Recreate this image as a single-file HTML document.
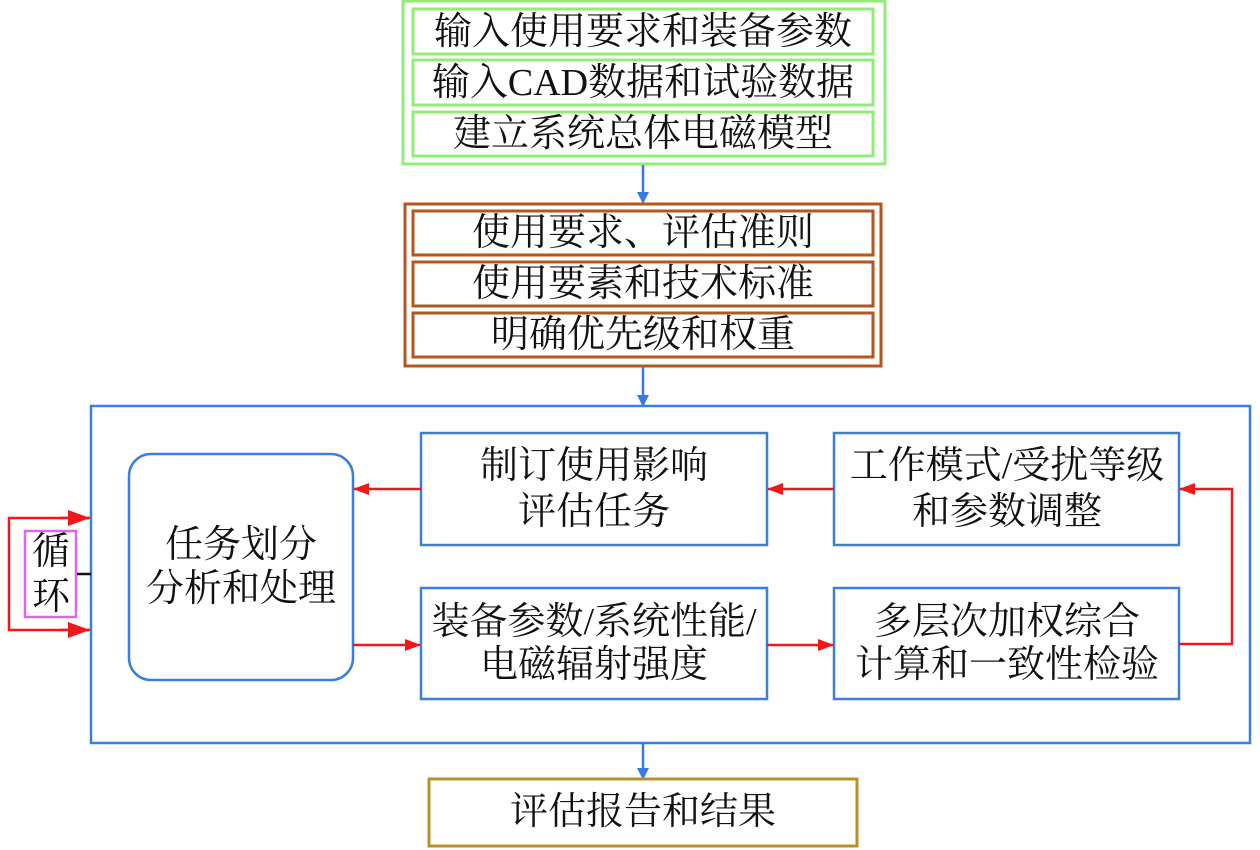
<!DOCTYPE html>
<html><head><meta charset="utf-8"><style>
html,body{margin:0;padding:0;background:#fff}
svg{display:block}
text{font-family:"Liberation Serif","Noto Serif CJK SC",serif;font-size:38px;fill:#111;text-anchor:middle;dominant-baseline:central}
</style></head><body>
<svg width="1260" height="850" viewBox="0 0 1260 850" xmlns="http://www.w3.org/2000/svg">
<defs>
<marker id="ab" markerWidth="12" markerHeight="12" refX="10" refY="6" orient="auto" markerUnits="userSpaceOnUse"><path d="M0,0 L12,6 L0,12 z" fill="#3b78e7"/></marker>
<marker id="ar" markerWidth="16" markerHeight="12" refX="15" refY="6" orient="auto" markerUnits="userSpaceOnUse"><path d="M0,0 L16,6 L0,12 z" fill="#f01818"/></marker>
<marker id="ar2" markerWidth="22" markerHeight="16" refX="21" refY="8" orient="auto" markerUnits="userSpaceOnUse"><path d="M0,0 L22,8 L0,16 z" fill="#f01818"/></marker>
</defs>
<rect x="403" y="1" width="482" height="163" fill="none" stroke="#90ee78" stroke-width="3"/>
<rect x="413" y="9" width="460" height="45" fill="none" stroke="#90ee78" stroke-width="3"/>
<rect x="413" y="60" width="460" height="45" fill="none" stroke="#90ee78" stroke-width="3"/>
<rect x="413" y="112" width="460" height="44" fill="none" stroke="#90ee78" stroke-width="3"/>
<text x="643" y="32">输入使用要求和装备参数</text>
<text x="643" y="83">输入CAD数据和试验数据</text>
<text x="643" y="134">建立系统总体电磁模型</text>
<line x1="643" y1="165" x2="643" y2="202" stroke="#3b78e7" stroke-width="2.5" marker-end="url(#ab)"/>
<rect x="405" y="204" width="476" height="162" fill="none" stroke="#b5561e" stroke-width="3"/>
<rect x="413" y="211" width="460" height="44" fill="none" stroke="#b5561e" stroke-width="3"/>
<rect x="413" y="262" width="460" height="44" fill="none" stroke="#b5561e" stroke-width="3"/>
<rect x="413" y="313" width="460" height="44" fill="none" stroke="#b5561e" stroke-width="3"/>
<text x="643" y="233">使用要求、评估准则</text>
<text x="643" y="284">使用要素和技术标准</text>
<text x="643" y="335">明确优先级和权重</text>
<line x1="643" y1="367" x2="643" y2="405" stroke="#3b78e7" stroke-width="2.5" marker-end="url(#ab)"/>
<rect x="91" y="406" width="1159" height="337" fill="none" stroke="#3b7fd8" stroke-width="2.5"/>
<rect x="129" y="454" width="224" height="226" rx="22" fill="none" stroke="#3b7fd8" stroke-width="2.5"/>
<text x="241" y="545">任务划分</text>
<text x="241" y="589">分析和处理</text>
<rect x="421" y="433" width="346" height="112" fill="none" stroke="#3b7fd8" stroke-width="2.5"/>
<text x="594" y="466">制订使用影响</text>
<text x="594" y="512">评估任务</text>
<rect x="834" y="433" width="345" height="112" fill="none" stroke="#3b7fd8" stroke-width="2.5"/>
<text x="1007" y="466">工作模式/受扰等级</text>
<text x="1007" y="512">和参数调整</text>
<rect x="421" y="588" width="346" height="111" fill="none" stroke="#3b7fd8" stroke-width="2.5"/>
<text x="594" y="622">装备参数/系统性能/</text>
<text x="594" y="665">电磁辐射强度</text>
<rect x="834" y="588" width="345" height="111" fill="none" stroke="#3b7fd8" stroke-width="2.5"/>
<text x="1007" y="622">多层次加权综合</text>
<text x="1007" y="665">计算和一致性检验</text>
<line x1="834" y1="489" x2="768" y2="489" stroke="#f01818" stroke-width="2.5" marker-end="url(#ar)"/>
<line x1="421" y1="489" x2="354" y2="489" stroke="#f01818" stroke-width="2.5" marker-end="url(#ar)"/>
<line x1="353" y1="645" x2="420" y2="645" stroke="#f01818" stroke-width="2.5" marker-end="url(#ar)"/>
<line x1="767" y1="645" x2="833" y2="645" stroke="#f01818" stroke-width="2.5" marker-end="url(#ar)"/>
<polyline points="1179,644 1232,644 1232,489 1180,489" fill="none" stroke="#f01818" stroke-width="2.5" marker-end="url(#ar)"/>
<polyline points="90,518 9,518 9,630 90,630" fill="none" stroke="#f01818" stroke-width="2.5"/>
<line x1="60" y1="518" x2="89" y2="518" stroke="#f01818" stroke-width="2.5" marker-end="url(#ar2)"/>
<line x1="60" y1="630" x2="89" y2="630" stroke="#f01818" stroke-width="2.5" marker-end="url(#ar2)"/>
<rect x="25" y="531" width="51" height="86" fill="#fff" stroke="#dd66ee" stroke-width="2.5"/>
<text x="51" y="552">循</text>
<text x="51" y="597">环</text>
<line x1="77" y1="574" x2="91" y2="574" stroke="#111" stroke-width="2.5"/>
<line x1="643" y1="743" x2="643" y2="778" stroke="#3b78e7" stroke-width="2.5" marker-end="url(#ab)"/>
<rect x="429" y="779" width="428" height="67" fill="none" stroke="#b5932a" stroke-width="3"/>
<text x="643" y="812">评估报告和结果</text>
</svg>
</body></html>
